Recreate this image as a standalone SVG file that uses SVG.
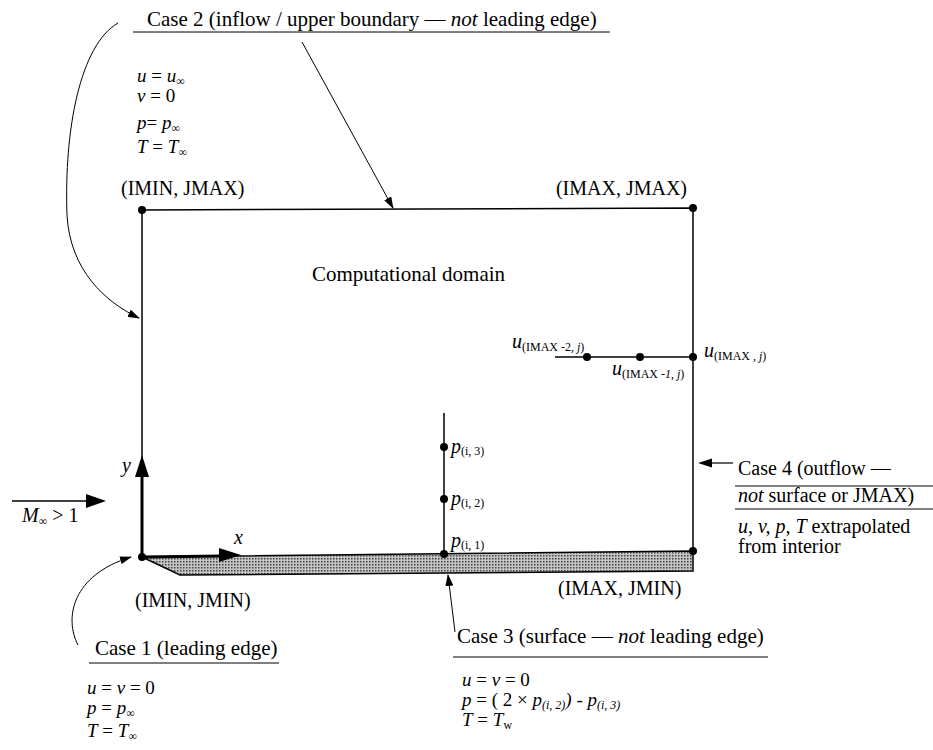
<svg xmlns="http://www.w3.org/2000/svg" width="933" height="750" viewBox="0 0 933 750">
<defs>
<pattern id="dots" width="3" height="3" patternUnits="userSpaceOnUse">
<rect width="3" height="3" fill="#c4c4c4"/>
<rect width="1.5" height="1.5" fill="#444"/>
</pattern>
<marker id="ah" markerWidth="12" markerHeight="8" refX="11" refY="4" orient="auto" markerUnits="userSpaceOnUse">
<path d="M0,0 L12,4 L0,8 z" fill="#000"/>
</marker>
</defs>
<style>
text { font-family: "Liberation Serif", "Times New Roman", serif; font-size: 20px; fill: #000; }
.t { font-size: 21px; }
.eq { font-size: 19px; }
.i { font-style: italic; }
.sub { font-size: 12px; }
.ln { stroke: #000; stroke-width: 1.5; fill: none; }
.thin { stroke: #000; stroke-width: 1; fill: none; }
.dot { fill: #000; }
</style>

<g id="domain">
<polyline class="ln" points="142,557 142,210 693,208 693,551"/>
<polygon points="142,557 693,551 693,571 180,575" fill="url(#dots)" stroke="#000" stroke-width="1.5"/>
<circle class="dot" cx="142" cy="210" r="4"/>
<circle class="dot" cx="693" cy="208" r="4"/>
<circle class="dot" cx="142" cy="557" r="4"/>
<circle class="dot" cx="693" cy="551" r="4"/>
<text class="t" x="312" y="281">Computational domain</text>
</g>

<g id="corner-imin-jmax"><text x="121" y="195">(IMIN, JMAX)</text></g>
<g id="corner-imax-jmax"><text x="687" y="195" text-anchor="end">(IMAX, JMAX)</text></g>
<g id="corner-imin-jmin"><text x="135" y="607">(IMIN, JMIN)</text></g>
<g id="corner-imax-jmin"><text x="558" y="595">(IMAX, JMIN)</text></g>

<g id="axes">
<line x1="142" y1="557" x2="142" y2="474" stroke="#000" stroke-width="3"/>
<polygon points="142,455 135,477 149,477" fill="#000"/>
<text class="i" x="122" y="472">y</text>
<line x1="142" y1="557" x2="222" y2="556" stroke="#000" stroke-width="3"/>
<polygon points="241,555 219,548 219,562" fill="#000"/>
<text class="i" x="234" y="544">x</text>
</g>

<g id="freestream">
<line x1="12" y1="501" x2="88" y2="501" stroke="#000" stroke-width="1.5"/>
<polygon points="106,501 86,494 86,508" fill="#000"/>
<text x="22" y="522"><tspan class="i">M</tspan><tspan class="sub" dy="3">∞</tspan><tspan dy="-3"> &gt; 1</tspan></text>
</g>

<g id="u-points">
<line class="ln" x1="555" y1="357" x2="693" y2="357"/>
<circle class="dot" cx="587" cy="357" r="4"/>
<circle class="dot" cx="640" cy="357" r="4"/>
<circle class="dot" cx="693" cy="357" r="4"/>
<text x="512" y="348"><tspan class="i">u</tspan><tspan class="sub" dy="3">(IMAX -2, <tspan class="i">j</tspan>)</tspan></text>
<text x="612" y="375"><tspan class="i">u</tspan><tspan class="sub" dy="3">(IMAX -<tspan class="i">1</tspan>, <tspan class="i">j</tspan>)</tspan></text>
<text x="704" y="357"><tspan class="i">u</tspan><tspan class="sub" dy="3">(IMAX , <tspan class="i">j</tspan>)</tspan></text>
</g>

<g id="p-points">
<line class="ln" x1="444" y1="413" x2="444" y2="554"/>
<circle class="dot" cx="444" cy="447" r="4"/>
<circle class="dot" cx="444" cy="499" r="4"/>
<circle class="dot" cx="444" cy="554" r="4"/>
<text x="451" y="453"><tspan class="i">p</tspan><tspan class="sub" dy="2">(i, 3)</tspan></text>
<text x="451" y="505"><tspan class="i">p</tspan><tspan class="sub" dy="2">(i, 2)</tspan></text>
<text x="451" y="547"><tspan class="i">p</tspan><tspan class="sub" dy="2">(i, 1)</tspan></text>
</g>

<g id="case2">
<text class="t" x="147" y="26">Case 2 (inflow / upper boundary — <tspan class="i">not</tspan> leading edge)</text>
<line class="thin" x1="133" y1="32" x2="610" y2="32"/>
<text class="eq" x="137" y="82"><tspan class="i">u</tspan> = <tspan class="i">u</tspan><tspan class="sub" dy="3">∞</tspan></text>
<text class="eq" x="137" y="102"><tspan class="i">v</tspan> = 0</text>
<text class="eq" x="137" y="129"><tspan class="i">p</tspan>= <tspan class="i">p</tspan><tspan class="sub" dy="3">∞</tspan></text>
<text class="eq" x="137" y="153"><tspan class="i">T</tspan> = <tspan class="i">T</tspan><tspan class="sub" dy="3">∞</tspan></text>
</g>

<g id="case1">
<text class="t" x="95" y="655">Case 1 (leading edge)</text>
<line class="thin" x1="89" y1="663" x2="279" y2="663"/>
<text class="eq" x="87" y="694"><tspan class="i">u</tspan> = <tspan class="i">v</tspan> = 0</text>
<text class="eq" x="87" y="714"><tspan class="i">p</tspan> = <tspan class="i">p</tspan><tspan class="sub" dy="3">∞</tspan></text>
<text class="eq" x="87" y="737"><tspan class="i">T</tspan> = <tspan class="i">T</tspan><tspan class="sub" dy="3">∞</tspan></text>
</g>

<g id="case3">
<text class="t" x="457" y="643">Case 3 (surface — <tspan class="i">not</tspan> leading edge)</text>
<line class="thin" x1="453" y1="657" x2="768" y2="657"/>
<text class="eq" x="462" y="686"><tspan class="i">u</tspan> = <tspan class="i">v</tspan> = 0</text>
<text class="eq" x="462" y="706"><tspan class="i">p</tspan> = ( 2 × <tspan class="i">p</tspan><tspan class="sub i" dy="3">(i, 2)</tspan><tspan class="i" dy="-3">)</tspan> - <tspan class="i">p</tspan><tspan class="sub i" dy="3">(i, 3)</tspan></text>
<text class="eq" x="462" y="726"><tspan class="i">T</tspan> = <tspan class="i">T</tspan><tspan class="sub" dy="3">w</tspan></text>
</g>

<g id="case4">
<text x="738" y="475">Case 4 (outflow —</text>
<line class="thin" x1="735" y1="486" x2="933" y2="486"/>
<text x="738" y="502"><tspan class="i">not</tspan> surface or JMAX)</text>
<line class="thin" x1="735" y1="509" x2="933" y2="509"/>
<text x="738" y="533"><tspan class="i">u, v, p, T</tspan> extrapolated</text>
<text x="738" y="553">from interior</text>
</g>

<g id="connectors">
<path class="thin" d="M302,42 L393,208" marker-end="url(#ah)"/>
<path class="thin" d="M118,23 C80,45 64,130 67,215 C70,270 105,302 139,318" marker-end="url(#ah)"/>
<path class="thin" d="M78,645 C64,618 72,575 131,557" marker-end="url(#ah)"/>
<path class="thin" d="M455,632 L448,575" marker-end="url(#ah)"/>
<line x1="733" y1="463" x2="708" y2="463" stroke="#000" stroke-width="1.2"/>
<polygon points="698,463 712,458.5 712,467.5" fill="#000"/>
</g>
</svg>
